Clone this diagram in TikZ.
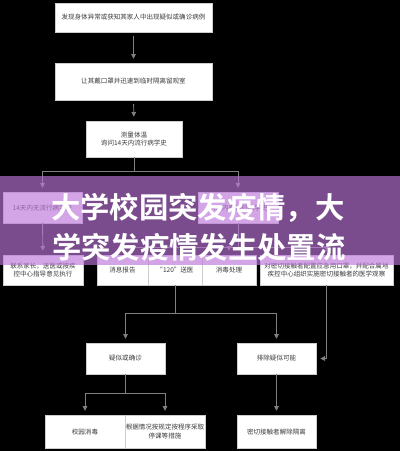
\documentclass[tikz,border=0pt]{standalone}
\usepackage{fontspec}
\usepackage{tikz}
\usetikzlibrary{arrows.meta}
\newfontfamily\cjk{Noto Sans CJK SC}
\newfontfamily\cjkbold{Noto Sans CJK SC Bold}

\definecolor{linegray}{RGB}{128,128,128}
\definecolor{textgray}{RGB}{60,60,60}
\definecolor{bandpurple}{RGB}{188,118,218}

\begin{document}
\begin{tikzpicture}[x=0.75pt, y=-0.75pt,
  box/.style 2 args={draw=linegray!40, fill=white, line width=0.3pt, inner sep=0pt,
    minimum width=#1*0.75pt, minimum height=#2*0.75pt, align=center,
    text=textgray, font=\cjk\fontsize{4.9pt}{6.2pt}\selectfont},
  line/.style={draw=linegray, line width=0.7pt},
  arr/.style={line, -{Triangle[width=3.4pt,length=3.6pt]}, shorten >=3pt},
  title/.style={text=white, inner sep=0pt, font=\cjkbold\fontsize{22pt}{24pt}\selectfont}]

  \useasboundingbox (0,0) rectangle (400,451);
  \fill[black] (0,0) rectangle (400,451);

  % Top chain
  \node[box={157}{29}] (found) at (133.5,17.5) {发现身体异常或获知其家人中出现疑似或确诊病例};
  \node[box={157}{37}] (mask) at (133.5,81.5) {让其戴口罩并迅速到临时隔离留观室};
  \node[box={96}{36}] (temp) at (134,139) {测量体温\\询问14天内流行病学史};

  \draw[arr, shorten <=3pt] (found) -- (mask);
  \draw[arr, shorten <=3pt] (mask) -- (temp);

  % Split on history
  \node[box={79}{31}] (nohist) at (42.5,207.5) {14天内无流行病学史};
  \node[box={80}{31}] (hist) at (238,207.5) {14天内有流行病学史};

  \coordinate (f1) at (134,171);
  \draw[line] (temp) -- (f1);
  \draw[arr] (f1) -| (nohist);
  \draw[arr] (f1) -| (hist);

  % Row of actions
  \node[box={80}{30}] (parent) at (43,270) {联系家长，送医或按疾\\控中心指导意见执行};
  \node[box={51}{30}] (report) at (122.5,270) {消息报告};
  \node[box={54}{30}] (send) at (175,270) {“120”送医};
  \node[box={54}{30}] (clean) at (229,270) {消毒处理};
  \node[box={133}{30}] (contact) at (326.5,270) {对密切接触者配置应急用口罩，并配合属地\\疾控中心组织实施密切接触者的医学观察};

  \draw[arr] (nohist) -- (parent);
  \coordinate (f2) at (238,247);
  \draw[line] (hist) -- (f2);
  \draw[arr] (f2) -| (report);
  \draw[arr] (f2) -| (send);
  \draw[arr] (f2) -| (clean);
  \draw[arr] (f2) -| (contact);

  % Outcome
  \node[box={79}{31}] (suspect) at (125.5,358.5) {疑似或确诊};
  \node[box={79}{31}] (exclude) at (276.5,358.5) {排除疑似可能};

  \coordinate (f3) at (175,313);
  \draw[line] (send) -- (f3);
  \draw[arr] (f3) -| (suspect);
  \draw[arr] (f3) -| (exclude);
  \draw[arr] (contact) |- (exclude);

  % Final steps
  \node[box={80}{33}] (campus) at (85,431.5) {校园消毒};
  \node[box={80}{33}] (stop) at (165,431.5) {根据情况按规定按程序采取\\停课等措施};
  \node[box={79}{33}] (release) at (276.5,431.5) {密切接触者解除隔离};

  \coordinate (f4) at (125.5,393);
  \draw[line] (suspect) -- (f4);
  \draw[arr] (f4) -| (campus);
  \draw[arr] (f4) -| (stop);
  \draw[arr] (exclude) -- (release);

  % Title band
  \fill[bandpurple, opacity=0.65] (0,176) rectangle (400,265);
  \node[title] (t1) at (198,208) {大学校园突发疫情，大};
  \node[title] (t2) at (199,247) {学突发疫情发生处置流};
\end{tikzpicture}
\end{document}
